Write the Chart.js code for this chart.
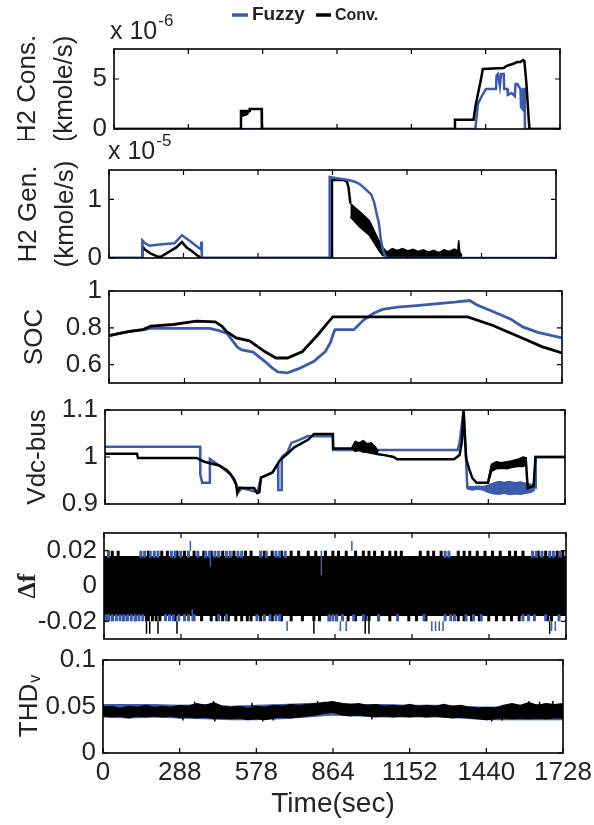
<!DOCTYPE html>
<html>
<head>
<meta charset="utf-8">
<script src="https://cdn.jsdelivr.net/npm/chart.js@4.4.1/dist/chart.umd.min.js"></script>
<style>
  body { margin: 0; background: #fff; }
  #wrap { position: relative; width: 594px; height: 825px; }
  #wrap canvas { position: absolute; left: 0; }
</style>
</head>
<body>
<div id="wrap">
  <canvas id="p1"></canvas>
  <canvas id="p2"></canvas>
  <canvas id="p3"></canvas>
  <canvas id="p4"></canvas>
  <canvas id="p5"></canvas>
  <canvas id="p6"></canvas>
</div>
<script>
const BLUE = '#3b5cae';
const TXT = '#262422';
const FONT = "'Liberation Sans Narrow', 'Liberation Sans', Arial, sans-serif";
const TICK_SIZE = 26;

// time axis
const timeTicks = [0, 288, 576, 864, 1152, 1440, 1728];
const timeTickLabels = ['0', '288', '578', '864', '1152', '1440', '1728'];

// H2 consumption (x 1e-6 kmole/s)
const consFuzzyT = [0, 1400, 1410, 1425, 1441, 1480, 1482, 1488, 1495, 1500, 1510, 1512, 1524, 1526, 1540, 1553, 1556, 1563, 1575, 1577, 1583, 1585, 1591, 1592, 1728];
const consFuzzy  = [0, 0, 2.5, 3.3, 4.0, 4.0, 5.3, 5.5, 4.3, 5.5, 5.5, 4.0, 4.0, 3.4, 3.6, 3.3, 4.5, 4.5, 4.0, 2.2, 2.0, 4.0, 4.0, 0, 0];
const consConvT = [0, 490, 492, 524, 526, 572, 573, 1320, 1321, 1393, 1400, 1410, 1422, 1429, 1470, 1510, 1520, 1532, 1545, 1562, 1575, 1585, 1590, 1598, 1608, 1609, 1728];
const consConv  = [0, 0, 1.8, 1.8, 2.0, 2.0, 0, 0, 0.93, 0.93, 2.2, 3.5, 5.0, 6.0, 6.05, 6.1, 6.3, 6.4, 6.5, 6.7, 6.7, 6.9, 6.8, 4.5, 0.5, 0, 0];
const consConvBandT  = [492, 498, 505, 512, 518, 524];
const consConvBandLo = [1.2, 1.3, 1.35, 1.4, 1.5, 1.8];
const consConvBandHi = [1.8, 1.8, 1.8, 1.8, 1.8, 1.8];

// H2 generation (x 1e-5 kmole/s)
const genFuzzyT = [0, 128, 129, 140, 157, 195, 253, 268, 282, 300, 319, 345, 355, 357, 359, 363, 853, 853, 880, 926, 950, 969, 990, 1014, 1025, 1035, 1043, 1050, 1058, 1066, 1075, 1728];
const genFuzzy  = [0, 0, 0.3, 0.25, 0.21, 0.23, 0.25, 0.32, 0.39, 0.33, 0.27, 0.18, 0.15, 0.28, 0.02, 0, 0, 1.38, 1.36, 1.33, 1.3, 1.26, 1.18, 1.08, 0.95, 0.75, 0.6, 0.35, 0.15, 0.05, 0, 0];
const genConvT = [0, 128, 129, 140, 160, 190, 200, 230, 260, 282, 300, 320, 345, 360, 862, 862, 905, 920, 926, 933];
const genConv  = [0, 0, 0.2, 0.14, 0.08, 0.02, 0.02, 0.1, 0.18, 0.27, 0.18, 0.12, 0.03, 0, 0, 1.33, 1.33, 1.3, 1.2, 0.93];
const genConvBandT  = [933, 969, 1006, 1043, 1058, 1075, 1095, 1115, 1135, 1155, 1175, 1195, 1215, 1235, 1255, 1275, 1295, 1315, 1335, 1348, 1352, 1356, 1365];
const genConvBandHi = [0.93, 0.79, 0.64, 0.30, 0.18, 0.10, 0.16, 0.13, 0.16, 0.12, 0.15, 0.11, 0.14, 0.10, 0.13, 0.09, 0.14, 0.11, 0.15, 0.12, 0.30, 0.10, 0.04];
const genConvBandLo = [0.70, 0.53, 0.39, 0.13, 0.04, 0.03, 0.03, 0.03, 0.03, 0.03, 0.03, 0.03, 0.03, 0.03, 0.03, 0.03, 0.03, 0.03, 0.03, 0.03, 0.03, 0.03, 0.0];

// state of charge
const socFuzzyT = [0, 40, 80, 130, 160, 384, 420, 450, 471, 490, 507, 550, 594, 620, 644, 681, 724, 782, 825, 845, 854, 862, 934, 970, 1006, 1043, 1100, 1173, 1245, 1318, 1376, 1402, 1462, 1535, 1578, 1636, 1728];
const socFuzzy  = [0.757, 0.77, 0.78, 0.79, 0.797, 0.797, 0.785, 0.77, 0.73, 0.695, 0.68, 0.668, 0.618, 0.585, 0.56, 0.555, 0.578, 0.618, 0.671, 0.72, 0.761, 0.79, 0.79, 0.841, 0.877, 0.9, 0.912, 0.921, 0.93, 0.939, 0.948, 0.925, 0.89, 0.845, 0.805, 0.775, 0.745];
const socConvT = [0, 40, 80, 130, 159, 246, 300, 333, 405, 430, 449, 485, 536, 594, 637, 681, 738, 796, 830, 854, 1368, 1462, 1578, 1651, 1728];
const socConv  = [0.757, 0.77, 0.78, 0.79, 0.809, 0.818, 0.83, 0.836, 0.832, 0.81, 0.779, 0.745, 0.729, 0.671, 0.636, 0.636, 0.671, 0.761, 0.82, 0.859, 0.859, 0.814, 0.743, 0.698, 0.663];

// dc bus voltage
const vdcFuzzyT = [0, 357, 358, 365, 393, 394, 429, 472, 493, 500, 515, 572, 586, 629, 650, 651, 662, 664, 685, 700, 728, 760, 856, 857, 1325, 1332, 1347, 1352, 1361, 1617, 1618, 1728];
const vdcFuzzy  = [1.022, 1.022, 0.963, 0.945, 0.945, 0.996, 0.982, 0.963, 0.941, 0.925, 0.934, 0.925, 0.956, 0.967, 0.985, 0.93, 0.93, 1.0, 1.01, 1.03, 1.036, 1.044, 1.044, 1.015, 1.015, 1.03, 1.1, 1.05, 0.935, 0.935, 1.0, 1.0];
const vdcFuzzyBandT  = [1361, 1380, 1400, 1420, 1439, 1460, 1480, 1500, 1520, 1540, 1560, 1580, 1600, 1615];
const vdcFuzzyBandHi = [0.937, 0.936, 0.938, 0.937, 0.94, 0.945, 0.948, 0.946, 0.948, 0.945, 0.947, 0.944, 0.942, 0.94];
const vdcFuzzyBandLo = [0.932, 0.93, 0.932, 0.93, 0.925, 0.922, 0.921, 0.923, 0.92, 0.922, 0.921, 0.923, 0.925, 0.93];
const vdcConvT = [0, 120, 124, 344, 373, 429, 458, 472, 486, 493, 497, 505, 515, 560, 572, 580, 586, 610, 629, 657, 685, 710, 728, 764, 785, 856, 857, 927, 1027, 1050, 1084, 1098, 1311, 1332, 1340, 1347, 1352, 1357, 1368, 1380, 1396, 1439, 1453, 1524, 1581, 1588, 1610, 1617, 1728];
const vdcConv  = [1.007, 1.007, 0.998, 0.998, 0.99, 0.982, 0.972, 0.963, 0.952, 0.941, 0.923, 0.935, 0.934, 0.934, 0.923, 0.925, 0.956, 0.962, 0.967, 0.993, 1.007, 1.02, 1.026, 1.037, 1.049, 1.049, 1.018, 1.018, 1.006, 1.004, 1.0, 0.995, 0.995, 1.004, 1.03, 1.1, 1.04, 0.996, 0.974, 0.955, 0.945, 0.945, 0.982, 0.983, 0.993, 0.934, 0.938, 1.0, 1.0];
const vdcConvNoise1T  = [927, 940, 955, 970, 985, 1000, 1015, 1027];
const vdcConvNoise1Hi = [1.02, 1.033, 1.03, 1.035, 1.028, 1.03, 1.022, 1.012];
const vdcConvNoise1Lo = [1.018, 1.012, 1.015, 1.01, 1.013, 1.008, 1.01, 1.006];
const vdcConvNoise2T  = [1439, 1453, 1470, 1490, 1510, 1530, 1550, 1570, 1585];
const vdcConvNoise2Hi = [0.95, 0.985, 0.99, 0.988, 0.99, 0.992, 0.995, 1.0, 0.998];
const vdcConvNoise2Lo = [0.945, 0.97, 0.975, 0.976, 0.975, 0.978, 0.98, 0.98, 0.985];

// frequency deviation: solid band plus the teeth and spikes seen at its edges
const dfBandT = [0, 1728];
const dfBandHi = [0.0165, 0.0165];
const dfBandLo = [-0.0165, -0.0165];
const dfTopBlackT = [31, 53, 166, 216, 237, 273, 301, 337, 373, 401, 444, 486, 529, 550, 600, 629, 664, 700, 728, 764, 792, 828, 856, 877, 906, 941, 970, 991, 1012, 1041, 1069, 1091, 1112, 1183, 1212, 1233, 1261, 1325, 1347, 1368, 1396, 1425, 1453, 1482, 1517, 1539, 1567, 1624, 1652, 1695, 1716];
const dfBotBlackT = [31, 74, 117, 159, 166, 181, 195, 209, 266, 365, 401, 422, 444, 465, 493, 515, 536, 550, 586, 629, 664, 700, 742, 785, 806, 842, 870, 913, 941, 977, 991, 1027, 1069, 1140, 1169, 1204, 1325, 1347, 1375, 1404, 1439, 1468, 1496, 1524, 1553, 1660, 1674];
const dfTopBlueT = [17, 138, 152, 173, 188, 202, 252, 266, 287, 316, 351, 380, 394, 415, 429, 458, 472, 501, 515, 586, 607, 643, 657, 678, 1276, 1290, 1603, 1617, 1638, 1667, 1681, 1706];
const dfBotBlueT = [7, 17, 31, 46, 60, 74, 88, 102, 117, 131, 145, 230, 245, 259, 280, 301, 316, 337, 429, 458, 572, 600, 621, 643, 657, 842, 856, 870, 892, 934, 970, 1027, 1098, 1197, 1276, 1297, 1311, 1354, 1382, 1411, 1567, 1588, 1610, 1652, 1702];
const dfBlueUpT = [323, 927];
const dfBlueDownT = [685, 884, 906, 1226, 1240, 1254, 1268, 1674, 1688];
const dfBlackDownT = [159, 171, 202, 273, 785, 977, 991, 1667];
const dfBlueInT = [398, 813, 330];
const dfBlueInFrom = [0.02, 0.02, -0.02];
const dfBlueInTo = [0.011, 0.006, -0.013];

// voltage THD
const thdT = [0, 32, 64, 96, 128, 160, 192, 224, 256, 288, 320, 352, 384, 416, 448, 480, 512, 544, 576, 608, 640, 672, 704, 736, 768, 800, 832, 864, 896, 928, 960, 992, 1024, 1056, 1088, 1120, 1152, 1184, 1216, 1248, 1280, 1312, 1344, 1376, 1408, 1440, 1472, 1504, 1536, 1568, 1600, 1632, 1664, 1696, 1728];
const thdConvHi = [0.049, 0.050, 0.048, 0.050, 0.049, 0.051, 0.049, 0.050, 0.049, 0.051, 0.050, 0.053, 0.051, 0.054, 0.050, 0.049, 0.050, 0.048, 0.050, 0.049, 0.051, 0.050, 0.052, 0.051, 0.052, 0.053, 0.054, 0.055, 0.053, 0.052, 0.053, 0.051, 0.052, 0.050, 0.051, 0.050, 0.052, 0.050, 0.051, 0.050, 0.052, 0.050, 0.051, 0.049, 0.048, 0.049, 0.048, 0.051, 0.053, 0.051, 0.054, 0.051, 0.053, 0.052, 0.053];
const thdConvLo = [0.040, 0.039, 0.040, 0.038, 0.040, 0.039, 0.040, 0.039, 0.040, 0.038, 0.039, 0.038, 0.039, 0.037, 0.038, 0.037, 0.038, 0.036, 0.037, 0.036, 0.038, 0.039, 0.038, 0.039, 0.040, 0.041, 0.043, 0.044, 0.041, 0.040, 0.041, 0.040, 0.039, 0.040, 0.039, 0.040, 0.039, 0.040, 0.039, 0.040, 0.039, 0.038, 0.039, 0.038, 0.037, 0.036, 0.037, 0.038, 0.037, 0.038, 0.037, 0.038, 0.037, 0.038, 0.038];
const thdFuzzyT = [0, 96, 192, 288, 384, 480, 576, 672, 768, 864, 960, 1056, 1152, 1248, 1344, 1440, 1536, 1632, 1728];
const thdFuzzyHi = [0.052, 0.052, 0.052, 0.051, 0.052, 0.050, 0.051, 0.052, 0.053, 0.054, 0.052, 0.052, 0.051, 0.051, 0.050, 0.049, 0.050, 0.052, 0.052];
const thdFuzzyLo = [0.039, 0.038, 0.039, 0.038, 0.037, 0.036, 0.036, 0.037, 0.039, 0.041, 0.040, 0.039, 0.039, 0.039, 0.038, 0.036, 0.036, 0.036, 0.036];
const thdUpT  = [344, 415, 560, 806, 830, 1600, 1640, 1690];
const thdUpTo = [0.055, 0.056, 0.054, 0.056, 0.055, 0.056, 0.055, 0.056];
const thdDownT  = [300, 420, 600, 640, 1010, 1460, 1500];
const thdDownTo = [0.035, 0.034, 0.034, 0.035, 0.036, 0.034, 0.035];

// ---- dataset helpers ----
function pts(t, v) {
  return t.map((x, i) => ({ x, y: v[i] }));
}
function line(t, v, color, width, order) {
  return { data: pts(t, v), borderColor: color, borderWidth: width, pointRadius: 0, fill: false, order };
}
function band(t, lo, hi, color, order) {
  return [
    { data: pts(t, lo), borderColor: color, borderWidth: 1.5, pointRadius: 0, fill: false, order },
    { data: pts(t, hi), borderColor: color, borderWidth: 1.5, pointRadius: 0, fill: '-1', backgroundColor: color, order },
  ];
}
// vertical strokes at given times (scalar or per-item ends)
function strokes(t, from, to, color, width, order) {
  const data = [];
  t.forEach((x, i) => {
    const a = Array.isArray(from) ? from[i] : from;
    const b = Array.isArray(to) ? to[i] : to;
    data.push({ x, y: a }, { x, y: b }, { x, y: null });
  });
  return { data, borderColor: color, borderWidth: width, pointRadius: 0, fill: false, spanGaps: false, order };
}

// frame with inward ticks, like the original axes box
const frame = {
  id: 'frame',
  afterDatasetsDraw(chart) {
    const { ctx, chartArea: a, scales: { x, y } } = chart;
    ctx.save();
    ctx.strokeStyle = '#000';
    ctx.lineWidth = 1.6;
    ctx.strokeRect(a.left, a.top, a.right - a.left, a.bottom - a.top);
    ctx.lineWidth = 1.2;
    ctx.beginPath();
    timeTicks.forEach(v => {
      const px = x.getPixelForValue(v);
      ctx.moveTo(px, a.bottom); ctx.lineTo(px, a.bottom - 5);
      ctx.moveTo(px, a.top); ctx.lineTo(px, a.top + 5);
    });
    y.ticks.forEach(t => {
      const py = y.getPixelForValue(t.value);
      ctx.moveTo(a.left, py); ctx.lineTo(a.left + 5, py);
      ctx.moveTo(a.right, py); ctx.lineTo(a.right - 5, py);
    });
    ctx.stroke();
    ctx.restore();
  }
};

function expLabel(ctx, x, y, exp) {
  ctx.fillStyle = TXT;
  ctx.textBaseline = 'middle';
  ctx.textAlign = 'left';
  ctx.font = "25px " + FONT;
  ctx.fillText('x 10', x, y);
  const w = ctx.measureText('x 10').width;
  ctx.font = "17px " + FONT;
  ctx.fillText(exp, x + w + 1, y - 11);
}

function makePanel(p) {
  const canvas = document.getElementById(p.id);
  canvas.width = 594;
  canvas.height = p.h;
  canvas.style.top = p.top + 'px';
  const showX = !!p.xTitle;
  const lh = p.titleLH || 30;
  return new Chart(canvas, {
    type: 'line',
    data: { datasets: p.datasets },
    options: {
      responsive: false,
      animation: false,
      events: [],
      layout: { padding: { left: 0, right: 594 - p.box.r, top: p.box.t - p.top, bottom: showX ? 0 : p.top + p.h - p.box.b } },
      plugins: { legend: { display: false }, tooltip: { enabled: false } },
      scales: {
        x: {
          type: 'linear', min: 0, max: 1728, display: showX,
          grid: { display: false, drawTicks: false }, border: { display: false },
          afterBuildTicks: s => { s.ticks = timeTicks.map(value => ({ value })); },
          afterFit: s => {
            s.paddingLeft = 0; s.paddingRight = 0;
            if (showX) s.height = p.top + p.h - p.box.b;
          },
          ticks: { autoSkip: false, maxRotation: 0, padding: 4, color: TXT, font: { family: FONT, size: TICK_SIZE },
                   callback: (v, i) => timeTickLabels[i] },
          title: { display: showX, text: p.xTitle, color: TXT, font: { family: FONT, size: 28 }, padding: { top: 0, bottom: 4 } }
        },
        y: {
          type: 'linear', min: p.yMin, max: p.yMax,
          grid: { display: false, drawTicks: false }, border: { display: false },
          afterBuildTicks: s => { s.ticks = p.yTicks.map(value => ({ value })); },
          afterFit: s => { s.width = p.box.l; s.paddingTop = 0; s.paddingBottom = 0; },
          ticks: { autoSkip: false, padding: 7, color: TXT, font: { family: FONT, size: TICK_SIZE },
                   callback: (v, i) => p.yLabels[i] },
          title: { display: !!p.yTitle, text: p.yTitle, color: TXT,
                   font: Object.assign({ family: FONT, size: 26, lineHeight: lh + 'px' }, p.titleFont || {}),
                   padding: { top: p.titleX - lh / 2, bottom: 0 } }
        }
      }
    },
    plugins: [frame, { id: 'extra', afterDraw: c => { if (p.extra) p.extra(c.ctx, c); } }]
  });
}

// ---- panels ----
makePanel({
  id: 'p1', top: 0, h: 140, box: { l: 114, r: 560, t: 49, b: 129 },
  yMin: 0, yMax: 8, yTicks: [0, 5], yLabels: ['0', '5'],
  yTitle: ['H2 Cons.', '(kmole/s)'], titleX: 28, titleLH: 37,
  datasets: [
    ...band(consConvBandT, consConvBandLo, consConvBandHi, '#000', 0),
    line(consConvT, consConv, '#000', 2.5, 1),
    line(consFuzzyT, consFuzzy, BLUE, 2.5, 2),
  ],
  extra(ctx) {
    expLabel(ctx, 110, 32, '-6');
    // legend
    ctx.lineWidth = 3.5;
    ctx.strokeStyle = BLUE;
    ctx.beginPath(); ctx.moveTo(232, 15); ctx.lineTo(248, 15); ctx.stroke();
    ctx.strokeStyle = '#000';
    ctx.beginPath(); ctx.moveTo(316, 15); ctx.lineTo(331, 15); ctx.stroke();
    ctx.fillStyle = TXT;
    ctx.textBaseline = 'middle';
    ctx.font = "bold 19px 'Liberation Sans', Arial, sans-serif";
    ctx.fillText('Fuzzy', 252, 15);
    ctx.font = "bold 16px 'Liberation Sans', Arial, sans-serif";
    ctx.fillText('Conv.', 335, 16);
  }
});

makePanel({
  id: 'p2', top: 132, h: 136, box: { l: 109, r: 556, t: 170, b: 258 },
  yMin: 0, yMax: 1.5, yTicks: [0, 1], yLabels: ['0', '1'],
  yTitle: ['H2 Gen.', '(kmole/s)'], titleX: 29, titleLH: 37,
  datasets: [
    line(genFuzzyT, genFuzzy, BLUE, 2.5, 0),
    ...band(genConvBandT, genConvBandLo, genConvBandHi, '#000', 1),
    line(genConvT, genConv, '#000', 2.5, 2),
  ],
  extra(ctx) { expLabel(ctx, 108, 20, '-5'); }
});

makePanel({
  id: 'p3', top: 268, h: 125, box: { l: 109, r: 562, t: 291, b: 383 },
  yMin: 0.5, yMax: 1, yTicks: [0.6, 0.8, 1], yLabels: ['0.6', '0.8', '1'],
  yTitle: 'SOC', titleX: 35,
  datasets: [
    line(socConvT, socConv, '#000', 2.8, 0),
    line(socFuzzyT, socFuzzy, BLUE, 2.8, 1),
  ]
});

makePanel({
  id: 'p4', top: 393, h: 122, box: { l: 105, r: 565, t: 410, b: 504 },
  yMin: 0.9, yMax: 1.1, yTicks: [0.9, 1, 1.1], yLabels: ['0.9', '1', '1.1'],
  yTitle: 'Vdc-bus', titleX: 38,
  datasets: [
    ...band(vdcConvNoise1T, vdcConvNoise1Lo, vdcConvNoise1Hi, '#000', 0),
    ...band(vdcConvNoise2T, vdcConvNoise2Lo, vdcConvNoise2Hi, '#000', 0),
    line(vdcConvT, vdcConv, '#000', 2.5, 1),
    ...band(vdcFuzzyBandT, vdcFuzzyBandLo, vdcFuzzyBandHi, BLUE, 2),
    line(vdcFuzzyT, vdcFuzzy, BLUE, 2.5, 3),
  ]
});

makePanel({
  id: 'p5', top: 515, h: 135, box: { l: 104, r: 566, t: 533, b: 639 },
  yMin: -0.03, yMax: 0.03, yTicks: [-0.02, 0, 0.02], yLabels: ['-0.02', '0', '0.02'],
  yTitle: '\u0394f', titleX: 28, titleFont: { family: "'Liberation Serif', serif", weight: 'bold', size: 26 },
  datasets: [
    strokes(dfBlueInT, dfBlueInFrom, dfBlueInTo, BLUE, 1.5, 0),
    strokes(dfBlueUpT, 0.02, 0.0255, BLUE, 1.5, 0),
    strokes(dfBlueDownT, -0.02, -0.0255, BLUE, 1.5, 0),
    strokes(dfTopBlueT, 0.016, 0.02, BLUE, 3, 1),
    strokes(dfBotBlueT, -0.016, -0.02, BLUE, 3, 1),
    strokes(dfTopBlackT, 0.016, 0.02, '#000', 3, 2),
    strokes(dfBotBlackT, -0.016, -0.02, '#000', 3, 2),
    strokes(dfBlackDownT, -0.02, -0.027, '#000', 1.5, 2),
    ...band(dfBandT, dfBandLo, dfBandHi, '#000', 3),
  ]
});

makePanel({
  id: 'p6', top: 645, h: 180, box: { l: 103, r: 563, t: 660, b: 753 },
  yMin: 0, yMax: 0.1, yTicks: [0, 0.05, 0.1], yLabels: ['0', '0.05', '0.1'],
  yTitle: null, xTitle: 'Time(sec)',
  datasets: [
    strokes(thdUpT, 0.05, thdUpTo, '#000', 1.5, 0),
    strokes(thdDownT, 0.04, thdDownTo, '#000', 1.5, 0),
    ...band(thdT, thdConvLo, thdConvHi, '#000', 0),
    ...band(thdFuzzyT, thdFuzzyLo, thdFuzzyHi, BLUE, 1),
  ],
  extra(ctx, chart) {
    // y title "THD" with subscript v, rotated like the other axis titles
    const a = chart.chartArea;
    ctx.save();
    ctx.translate(30, (a.top + a.bottom) / 2);
    ctx.rotate(-Math.PI / 2);
    ctx.fillStyle = TXT;
    ctx.textBaseline = 'middle';
    ctx.textAlign = 'left';
    ctx.font = "26px " + FONT;
    const w1 = ctx.measureText('THD').width;
    ctx.font = "16px " + FONT;
    const w2 = ctx.measureText('v').width;
    const x0 = -(w1 + w2) / 2;
    ctx.font = "26px " + FONT;
    ctx.fillText('THD', x0, 0);
    ctx.font = "16px " + FONT;
    ctx.fillText('v', x0 + w1 + 1, 6);
    ctx.restore();
  }
});
</script>
</body>
</html>
